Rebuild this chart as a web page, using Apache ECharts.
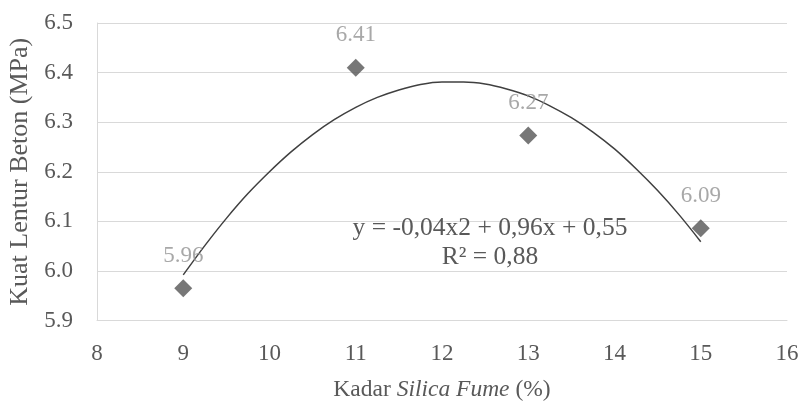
<!DOCTYPE html>
<html>
<head>
<meta charset="utf-8">
<script src="https://cdn.jsdelivr.net/npm/echarts@6/dist/echarts.min.js"></script>
<style>
html,body{margin:0;padding:0;background:#fff;}
#chart{width:802px;height:401px;}
</style>
</head>
<body>
<div id="chart"></div>
<script>
// Measured points (Kadar Silica Fume %, Kuat Lentur MPa)
const silicaFume = [9, 11, 13, 15];
const flexuralStrength = [5.965, 6.41, 6.273, 6.086];
const pointLabels = ['5.96', '6.41', '6.27', '6.09'];
// Trendline samples
const trendX = [9, 9.25, 9.5, 9.75, 10, 10.25, 10.5, 10.75, 11, 11.25, 11.5, 11.75, 12,
                12.25, 12.5, 12.75, 13, 13.25, 13.5, 13.75, 14, 14.25, 14.5, 14.75, 15];
const trendY = [5.992, 6.051, 6.106, 6.156, 6.200, 6.240, 6.275, 6.305, 6.330, 6.350, 6.365, 6.376, 6.381,
                6.381, 6.377, 6.367, 6.353, 6.333, 6.309, 6.280, 6.246, 6.206, 6.162, 6.113, 6.059];
const xTicks = [8, 16, 1];
const yTicks = [5.9, 6.5, 0.1];
const equationLines = ['y = -0,04x2 + 0,96x + 0,55', 'R² = 0,88'];

const FONT = '"Liberation Serif", "DejaVu Serif", serif';
const FS = 23;
const chart = echarts.init(document.getElementById('chart'));
chart.setOption({
  animation: false,
  backgroundColor: '#fff',
  grid: { left: 97, right: 15, top: 23, bottom: 80.5, containLabel: false, outerBoundsMode: 'none' },
  xAxis: {
    type: 'value', min: xTicks[0], max: xTicks[1], interval: xTicks[2],
    name: '{n|Kadar }{i|Silica Fume}{n| (%)}', nameLocation: 'middle', nameGap: 57,
    nameTextStyle: { rich: {
      n: { fontFamily: FONT, fontSize: 23.5, color: '#595959' },
      i: { fontFamily: FONT, fontSize: 23.5, color: '#595959', fontStyle: 'italic' }
    }},
    axisLine: { show: true, lineStyle: { color: '#d9d9d9', width: 1 } },
    axisTick: { show: false },
    splitLine: { show: false },
    axisLabel: { fontFamily: FONT, fontSize: FS, color: '#595959', margin: 22 }
  },
  yAxis: {
    type: 'value', min: yTicks[0], max: yTicks[1], interval: yTicks[2],
    name: 'Kuat Lentur Beton (MPa)', nameLocation: 'middle', nameGap: 64,
    nameTextStyle: { fontFamily: FONT, fontSize: 26, color: '#595959' },
    axisLine: { show: true, lineStyle: { color: '#d9d9d9', width: 1 } },
    axisTick: { show: false },
    splitLine: { show: true, lineStyle: { color: '#d9d9d9', width: 1 } },
    axisLabel: { fontFamily: FONT, fontSize: FS, color: '#595959', margin: 24,
      formatter: v => v.toFixed(1) }
  },
  series: [
    {
      type: 'line', name: 'trend',
      data: trendX.map((x, i) => [x, trendY[i]]),
      smooth: 0.3, showSymbol: false, symbol: 'none',
      lineStyle: { color: '#404040', width: 1.5 },
      z: 3, silent: true
    },
    {
      type: 'scatter', name: 'data',
      data: silicaFume.map((x, i) => [x, flexuralStrength[i]]),
      symbol: 'diamond', symbolSize: 18,
      itemStyle: { color: '#555555' },
      label: {
        show: true, position: 'top', distance: 12,
        formatter: p => pointLabels[p.dataIndex],
        fontFamily: FONT, fontSize: FS, color: '#929292'
      },
      z: 4
    }
  ],
  graphic: [
    { type: 'text', x: 490, y: 228,
      style: { text: equationLines[0], fontFamily: FONT, fontSize: 25.5, fill: '#595959',
        textAlign: 'center', textVerticalAlign: 'middle' }, z: 10 },
    { type: 'text', x: 490, y: 257,
      style: { text: equationLines[1], fontFamily: FONT, fontSize: 25.5, fill: '#595959',
        textAlign: 'center', textVerticalAlign: 'middle' }, z: 10 }
  ]
});
</script>
</body>
</html>
